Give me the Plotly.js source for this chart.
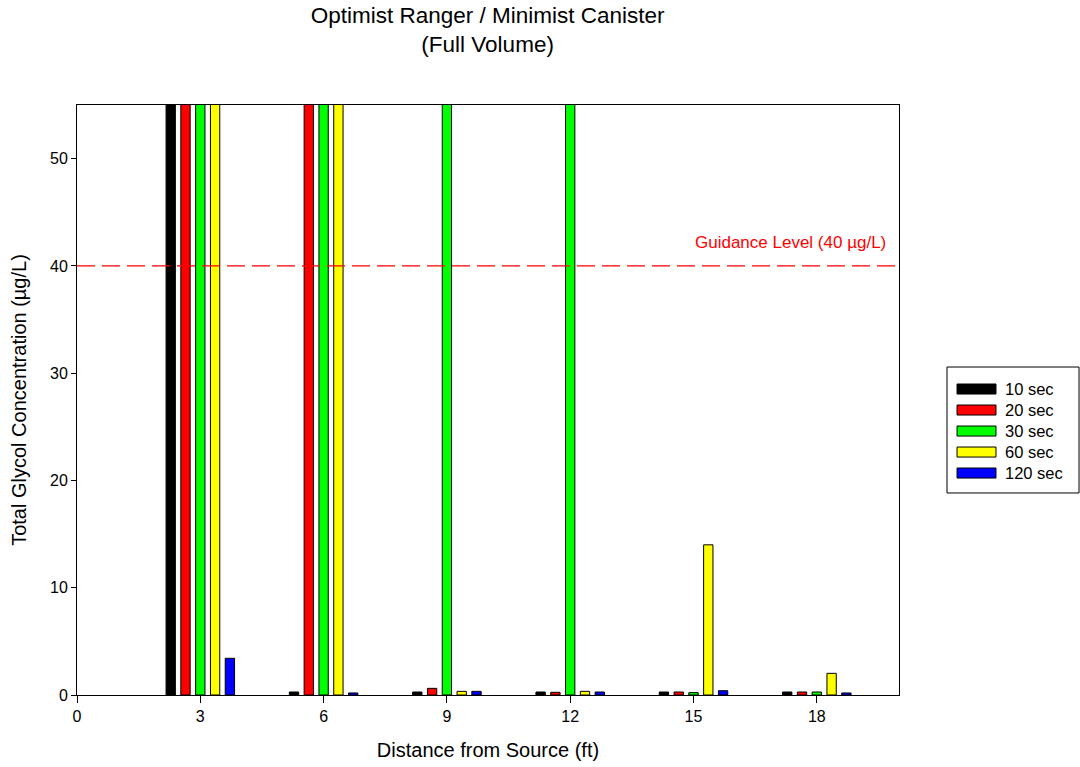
<!DOCTYPE html>
<html>
<head>
<meta charset="utf-8">
<script src="https://cdn.plot.ly/plotly-3.0.1.min.js"></script>
<style>html,body{margin:0;padding:0;background:#fff;}#chart{width:1080px;height:767px;}</style>
</head>
<body>
<div id="chart"></div>
<script>
// Distance from source (ft)
const distances = [3, 6, 9, 12, 15, 18];
// Series names and colors
const seriesNames = ["10 sec", "20 sec", "30 sec", "60 sec", "120 sec"];
const seriesColors = ["#000000", "#ff0000", "#00ff00", "#ffff00", "#0000ff"];
// Values (µg/L); bars that run off the top of the chart are drawn clipped at the axis max
const sec10  = [100, 0.28, 0.28, 0.28, 0.28, 0.28];
const sec20  = [100, 100, 0.62, 0.25, 0.28, 0.28];
const sec30  = [100, 100, 100, 100, 0.22, 0.28];
const sec60  = [100, 100, 0.34, 0.34, 14.0, 2.02];
const sec120 = [3.42, 0.19, 0.34, 0.28, 0.4, 0.19];
const guidanceLevel = 40;
const guidanceText = "Guidance Level (40 \u00b5g/L)";
const xTicks = [0, 3, 6, 9, 12, 15, 18];
const yTicks = [0, 10, 20, 30, 40, 50];

const allSeries = [sec10, sec20, sec30, sec60, sec120];
const FONT = "Liberation Sans, Arial, sans-serif";

const traces = allSeries.map((vals, i) => ({
  type: "bar",
  x: distances,
  y: vals,
  name: seriesNames[i],
  marker: {color: seriesColors[i], line: {color: "#000", width: 1}},
  showlegend: false,
  hoverinfo: "x+y+name"
}));

const shapes = [{
  type: "line", xref: "paper", yref: "y", x0: 0, x1: 1, y0: guidanceLevel, y1: guidanceLevel,
  line: {color: "#ff0000", width: 1.3, dash: "18px,7px"}
}];
const annotations = [{
  xref: "paper", yref: "y", x: 0.987, y: guidanceLevel + 1.1, xanchor: "right", yanchor: "bottom",
  text: guidanceText, showarrow: false, font: {family: FONT, size: 17, color: "#ff0000"}
}];

// Custom legend box (paper coords), built from series names/colors
const legL = 1.0584, legR = 1.2190, legT = 0.5559, legB = 0.3424;
shapes.push({type: "rect", xref: "paper", yref: "paper", x0: legL, x1: legR, y0: legB, y1: legT,
  line: {color: "#000", width: 1}, fillcolor: "#fff"});
seriesNames.forEach((nm, i) => {
  const yc = 0.5186 - i * 0.0356;
  shapes.push({type: "rect", xref: "paper", yref: "paper", x0: 1.0706, x1: 1.1180,
    y0: yc - 0.0085, y1: yc + 0.0085, fillcolor: seriesColors[i], line: {color: "#000", width: 1}});
  annotations.push({xref: "paper", yref: "paper", x: 1.1265, y: yc, xanchor: "left", yanchor: "middle",
    text: nm, showarrow: false, font: {family: FONT, size: 16.5, color: "#000"}});
});

const layout = {
  width: 1080, height: 767,
  margin: {l: 77, r: 181, t: 105, b: 72},
  paper_bgcolor: "#fff", plot_bgcolor: "#fff",
  font: {family: FONT, color: "#000"},
  title: {text: "Optimist Ranger / Minimist Canister<br>(Full Volume)", x: 0.4515, xanchor: "center",
    yref: "container", y: 0.97, yanchor: "middle", font: {family: FONT, size: 22.5, color: "#000"}},
  barmode: "group", bargap: 0.4, bargroupgap: 0.37,
  xaxis: {range: [0, 20], tickvals: xTicks, ticktext: xTicks.map(String), ticks: "outside", ticklen: 7,
    tickcolor: "#000", showline: true, linecolor: "#000", linewidth: 1, mirror: true, showgrid: false,
    zeroline: false, tickfont: {family: FONT, size: 16},
    title: {text: "Distance from Source (ft)", font: {family: FONT, size: 20}, standoff: 18}},
  yaxis: {range: [0, 55], tickvals: yTicks, ticktext: yTicks.map(String), ticks: "outside", ticklen: 5,
    tickcolor: "#000", showline: true, linecolor: "#000", linewidth: 1, mirror: true, showgrid: false,
    zeroline: false, tickfont: {family: FONT, size: 16},
    title: {text: "Total Glycol Concentration (\u00b5g/L)", font: {family: FONT, size: 20}, standoff: 18}},
  shapes: shapes,
  annotations: annotations,
  showlegend: false
};

Plotly.newPlot("chart", traces, layout, {displayModeBar: false, staticPlot: true});
</script>
</body>
</html>
